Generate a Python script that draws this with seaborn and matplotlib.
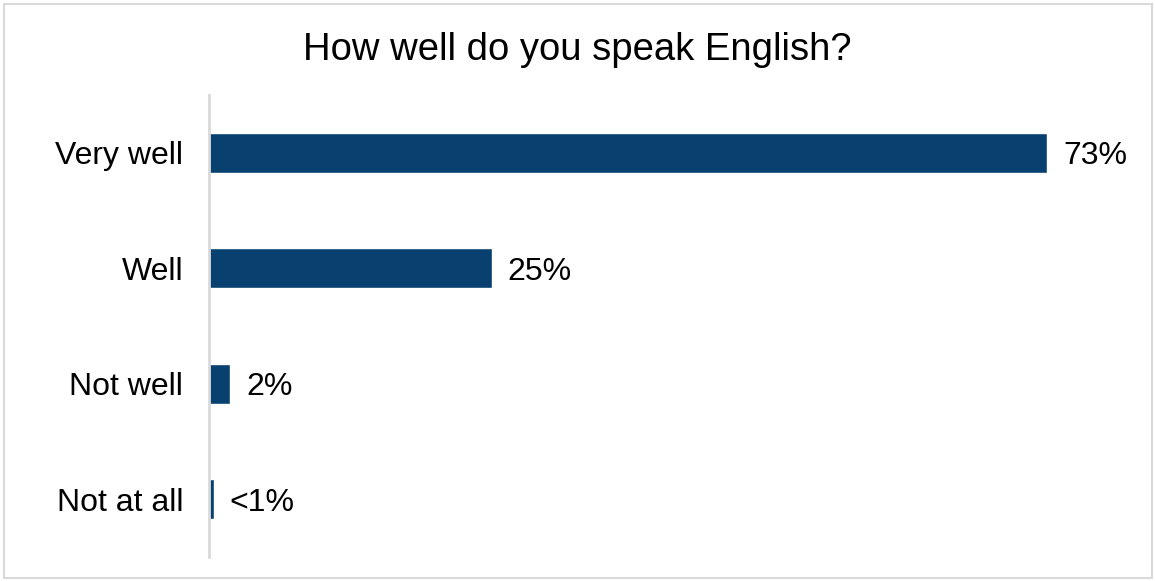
import matplotlib
matplotlib.use("Agg")
import matplotlib.pyplot as plt
import seaborn as sns
import pandas as pd

categories = ["Very well", "Well", "Not well", "Not at all"]
shares = [73, 24.6, 1.8, 0.35]
value_labels = ["73%", "25%", "2%", "<1%"]

df = pd.DataFrame({"category": categories, "share": shares})

sns.set_theme(style="white")
plt.rcParams["font.family"] = ["Liberation Sans", "DejaVu Sans"]

W, H = 1155, 581
fig = plt.figure(figsize=(W / 100, H / 100), dpi=100)

# light frame round the whole chart
fig.patches.append(plt.Rectangle((3.5 / W, 3.5 / H), (W - 7) / W, (H - 7) / H,
                                 transform=fig.transFigure, fill=False,
                                 edgecolor="#D9D9D9", linewidth=1.5))

left, right = 209.5, 1140
top, bottom = 95, 557
ax = fig.add_axes([left / W, 1 - bottom / H, (right - left) / W, (bottom - top) / H])

sns.barplot(data=df, x="share", y="category", orient="h", color="#08416F",
            width=0.35, ax=ax, saturation=1)

px_per_pct = (1047 - 209.5) / 73
ax.set_xlim(0, (right - left) / px_per_pct)
ax.set_ylim(3.5, -0.5)

for i, (v, lab) in enumerate(zip(shares, value_labels)):
    ax.text(v + 16 / px_per_pct, i, lab, va="center_baseline", ha="left",
            fontsize=23, color="#000000")

ax.set_xlabel("")
ax.set_ylabel("")
ax.set_xticks([])
ax.tick_params(axis="y", labelsize=23, colors="#000000", pad=19, length=0)
for s in ["top", "right", "bottom"]:
    ax.spines[s].set_visible(False)
ax.spines["left"].set_color("#D9D9D9")
ax.spines["left"].set_linewidth(2)

fig.text(0.5, 1 - 50 / H, "How well do you speak English?", ha="center",
         va="center", fontsize=27.5, color="#000000")

fig.savefig("out.png", dpi=100)
